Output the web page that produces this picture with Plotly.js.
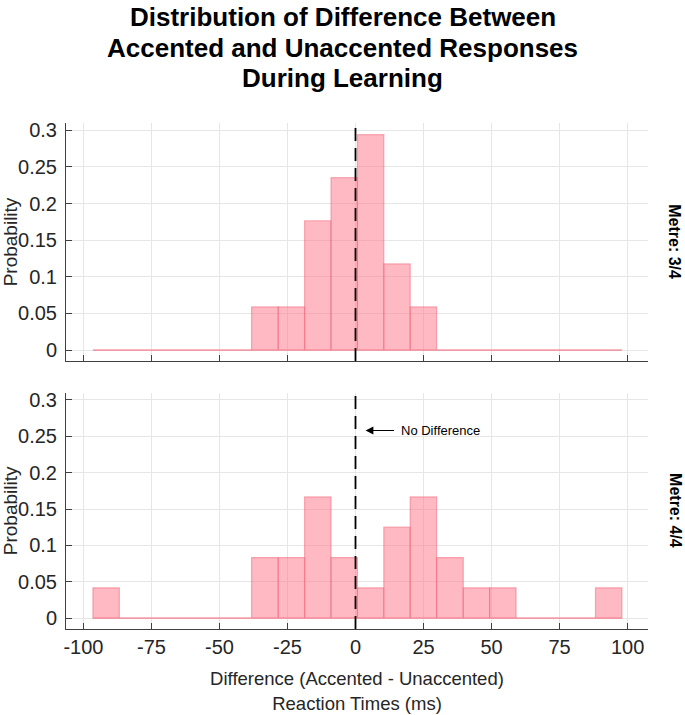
<!DOCTYPE html>
<html>
<head>
<meta charset="utf-8">
<script src="https://cdn.plot.ly/plotly-3.0.1.min.js"></script>
<style>
html,body{margin:0;padding:0;background:#fff;}
#chart{width:685px;height:715px;}
</style>
</head>
<body>
<div id="chart"></div>
<script>
// Bin edges (ms)
const binEdges = [-96.5, -86.8, -77.1, -67.3, -57.6, -47.9, -38.2, -28.4, -18.7, -9.0, 0.7,
                  10.4, 20.1, 29.8, 39.6, 49.3, 59.0, 68.7, 78.4, 88.2, 97.9];
// Probability per bin, Metre 3/4
const probMetre34 = [0, 0, 0, 0, 0, 0, 0.0588, 0.0588, 0.1765, 0.2353, 0.2941, 0.1176, 0.0588,
                     0, 0, 0, 0, 0, 0, 0];
// Probability per bin, Metre 4/4
const probMetre44 = [0.0417, 0, 0, 0, 0, 0, 0.0833, 0.0833, 0.1667, 0.0833, 0.0417, 0.125, 0.1667,
                     0.0833, 0.0417, 0.0417, 0, 0, 0, 0.0417];
const xTickVals = [-100, -75, -50, -25, 0, 25, 50, 75, 100];
const xTickText = ['-100', '-75', '-50', '-25', '0', '25', '50', '75', '100'];
const yTickVals = [0, 0.05, 0.1, 0.15, 0.2, 0.25, 0.3];
const yTickText = ['0', '0.05', '0.1', '0.15', '0.2', '0.25', '0.3'];
const panelLabels = ['Metre: 3/4', 'Metre: 4/4'];
const noDiffLabel = 'No Difference';
const titleLines = ['Distribution of Difference Between', 'Accented and Unaccented Responses', 'During Learning'];
const xTitleText = 'Difference (Accented - Unaccented)<br>Reaction Times (ms)';
const yTitleText = 'Probability';

const centers = binEdges.slice(0, -1).map((e, i) => (e + binEdges[i + 1]) / 2);
const widths = binEdges.slice(0, -1).map((e, i) => binEdges[i + 1] - e);

const FONT = 'Liberation Sans, Arial, Helvetica, sans-serif';
const fill = 'rgba(255,120,138,0.52)';
const edge = 'rgba(240,100,120,0.5)';

function histTraces(probs, xa, ya) {
  return [
    {type: 'scatter', mode: 'lines', x: [binEdges[0], binEdges[binEdges.length - 1]], y: [0, 0],
     xaxis: xa, yaxis: ya, line: {color: 'rgba(245,140,155,0.85)', width: 1.2}, hoverinfo: 'skip', showlegend: false},
    {type: 'bar', x: centers, y: probs, width: widths, xaxis: xa, yaxis: ya,
     marker: {color: fill, line: {color: edge, width: 1.2}}, showlegend: false}
  ];
}

const data = [...histTraces(probMetre34, 'x', 'y'), ...histTraces(probMetre44, 'x2', 'y2')];

const xBase = {
  range: [-106.4, 107.5], tickvals: xTickVals, ticktext: xTickText, ticks: 'inside', ticklen: 6, tickwidth: 1,
  tickcolor: '#404040', showline: true, linecolor: '#404040', linewidth: 1,
  showgrid: true, gridcolor: '#e6e6e6', gridwidth: 1, zeroline: false,
  tickfont: {family: FONT, size: 20, color: '#262626'}, fixedrange: true
};
const yBase = {
  range: [-0.015, 0.31], tickvals: yTickVals, ticktext: yTickText, ticks: 'inside', ticklen: 6,
  tickwidth: 1, tickcolor: '#404040', showline: true, linecolor: '#404040', linewidth: 1,
  showgrid: true, gridcolor: '#e6e6e6', gridwidth: 1, zeroline: false,
  tickfont: {family: FONT, size: 20, color: '#262626'}, ticklabelstandoff: 4,
  title: {text: yTitleText, font: {family: FONT, size: 19, color: '#262626'}, standoff: 2},
  fixedrange: true
};

const H = 506, B = 629; // plot area: paper y from pixel
const py = p => (B - p) / H;

const annotations = [
  {xref: 'paper', yref: 'y domain', x: 1.046, y: 0.5, xanchor: 'center', yanchor: 'middle',
   text: '<b>' + panelLabels[0] + '</b>',
   textangle: 90, showarrow: false, font: {family: FONT, size: 16, color: '#000'}},
  {xref: 'paper', yref: 'y2 domain', x: 1.046, y: 0.5, xanchor: 'center', yanchor: 'middle',
   text: '<b>' + panelLabels[1] + '</b>',
   textangle: 90, showarrow: false, font: {family: FONT, size: 16, color: '#000'}},
  {xref: 'x2', yref: 'y2', x: 3.7, y: 0.258, ax: 30, ay: 0, text: '', showarrow: true,
   arrowhead: 2, arrowsize: 1.3, arrowwidth: 1.2, arrowcolor: '#000'},
  {xref: 'x2', yref: 'y2', x: 16.0, y: 0.258, text: noDiffLabel, showarrow: false, xanchor: 'left',
   font: {family: FONT, size: 13, color: '#000'}}
];
const titleY = [17, 47.5, 78];
titleLines.forEach((t, i) => annotations.push({
  xref: 'paper', yref: 'paper', x: (342.5 - 66) / 582, y: py(titleY[i]), xanchor: 'center', yanchor: 'middle',
  text: '<b>' + t + '</b>', showarrow: false, font: {family: FONT, size: 26, color: '#000'}
}));

const layout = {
  width: 685, height: 715,
  margin: {l: 66, r: 37, t: 123, b: 86},
  paper_bgcolor: '#ffffff', plot_bgcolor: '#ffffff',
  bargap: 0,
  xaxis: Object.assign({}, xBase, {anchor: 'y', domain: [0, 1], showticklabels: false}),
  yaxis: Object.assign({}, yBase, {anchor: 'x', domain: [0.5296, 1]}),
  xaxis2: Object.assign({}, xBase, {anchor: 'y2', domain: [0, 1],
           title: {text: xTitleText, font: {family: FONT, size: 18.5, color: '#262626'}, standoff: 15}}),
  yaxis2: Object.assign({}, yBase, {anchor: 'x2', domain: [0, 0.467]}),
  shapes: [
    {type: 'line', xref: 'x', yref: 'y domain', x0: 0, x1: 0, y0: 0, y1: 1, layer: 'above',
     line: {color: '#000000', width: 1.8, dash: '13px,7px'}},
    {type: 'line', xref: 'x2', yref: 'y2 domain', x0: 0, x1: 0, y0: 0, y1: 1, layer: 'above',
     line: {color: '#000000', width: 1.8, dash: '13px,7px'}}
  ],
  annotations: annotations
};

Plotly.newPlot('chart', data, layout, {staticPlot: true, displayModeBar: false});
</script>
</body>
</html>
